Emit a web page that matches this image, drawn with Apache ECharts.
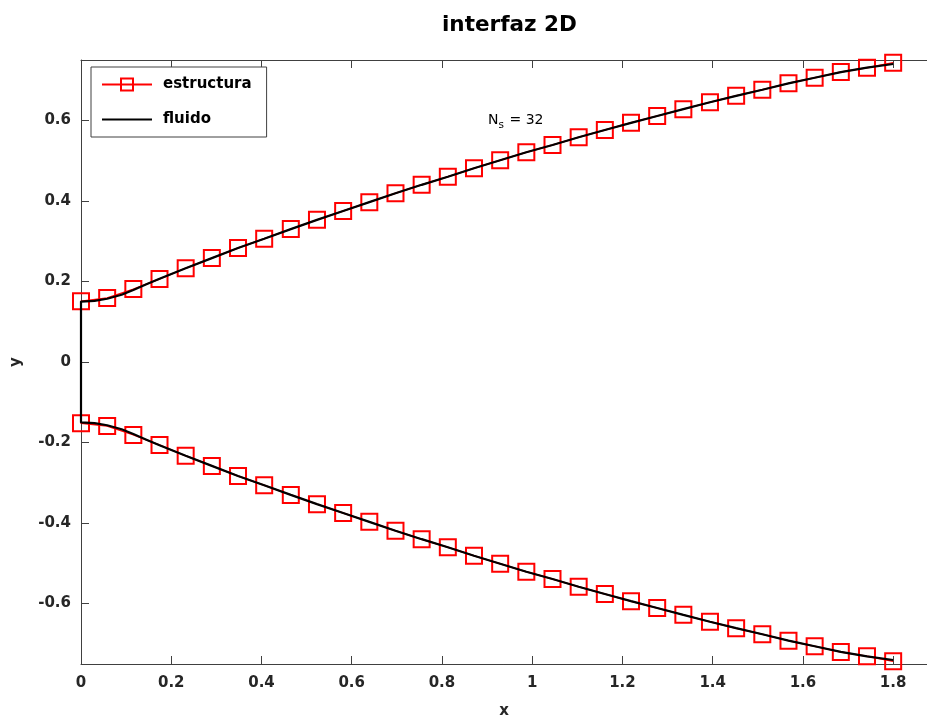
<!DOCTYPE html>
<html>
<head>
<meta charset="utf-8">
<script src="https://cdn.jsdelivr.net/npm/echarts@6/dist/echarts.min.js"></script>
<style>html,body{margin:0;padding:0;background:#fff}#c{width:927px;height:715px}</style>
</head>
<body>
<div id="c"></div>
<script>
// structure nodes (N_s = 32)
const structX = [0, 0.058, 0.116, 0.174, 0.232, 0.290, 0.348, 0.406, 0.465, 0.523, 0.581, 0.639, 0.697, 0.755, 0.813, 0.871, 0.929, 0.987, 1.045, 1.103, 1.161, 1.219, 1.277, 1.335, 1.394, 1.452, 1.510, 1.568, 1.626, 1.684, 1.742, 1.8];
const structUpper = [0.151, 0.159, 0.181, 0.206, 0.233, 0.258, 0.283, 0.306, 0.330, 0.353, 0.375, 0.397, 0.419, 0.440, 0.460, 0.481, 0.501, 0.521, 0.539, 0.558, 0.576, 0.594, 0.611, 0.628, 0.645, 0.661, 0.676, 0.692, 0.706, 0.720, 0.731, 0.743];
const structLower = [-0.152, -0.159, -0.181, -0.206, -0.233, -0.258, -0.283, -0.306, -0.330, -0.353, -0.375, -0.397, -0.419, -0.440, -0.460, -0.481, -0.501, -0.521, -0.539, -0.558, -0.576, -0.594, -0.611, -0.628, -0.645, -0.661, -0.676, -0.692, -0.706, -0.720, -0.731, -0.743];
// fluid interface
const fluidX = [0, 0.03, 0.058, 0.09, 0.116, 0.145, 0.174, 0.232, 0.290, 0.348, 0.406, 0.465, 0.523, 0.581, 0.639, 0.697, 0.755, 0.813, 0.871, 0.929, 0.987, 1.045, 1.103, 1.161, 1.219, 1.277, 1.335, 1.394, 1.452, 1.510, 1.568, 1.626, 1.684, 1.742, 1.8];
const fluidUpper = [0.150, 0.152, 0.157, 0.167, 0.179, 0.193, 0.207, 0.233, 0.258, 0.283, 0.306, 0.330, 0.353, 0.375, 0.397, 0.419, 0.440, 0.460, 0.481, 0.501, 0.521, 0.539, 0.558, 0.576, 0.594, 0.611, 0.628, 0.645, 0.661, 0.676, 0.692, 0.706, 0.720, 0.731, 0.740];
const fluidLower = [-0.150, -0.152, -0.157, -0.167, -0.179, -0.193, -0.207, -0.233, -0.258, -0.283, -0.306, -0.330, -0.353, -0.375, -0.397, -0.419, -0.440, -0.460, -0.481, -0.501, -0.521, -0.539, -0.558, -0.576, -0.594, -0.611, -0.628, -0.645, -0.661, -0.676, -0.692, -0.706, -0.720, -0.731, -0.740];
const xTicks = [0, 0.2, 0.4, 0.6, 0.8, 1, 1.2, 1.4, 1.6, 1.8];
const yTicks = [-0.6, -0.4, -0.2, 0, 0.2, 0.4, 0.6];

function closedCurve(xs, up, lo) {
  const out = [];
  for (let i = xs.length - 1; i >= 0; i--) out.push([xs[i], up[i]]);
  for (let i = 0; i < xs.length; i++) out.push([xs[i], lo[i]]);
  return out;
}

const FONT = 'DejaVu Sans';
const TXT = '#262626';
const AX = '#404040';
const chart = echarts.init(document.getElementById('c'), null, {renderer: 'canvas'});
chart.setOption({
  animation: false,
  backgroundColor: '#fff',
  title: {
    text: 'interfaz 2D', left: 442, top: 14, padding: 0,
    textStyle: {fontFamily: FONT, fontSize: 21.5, fontWeight: 'bold', color: '#000'}
  },
  grid: {left: 81, right: 0, top: 60, bottom: 51, containLabel: false, outerBoundsMode: 'none'},
  legend: {
    orient: 'vertical', left: 91, top: 67,
    padding: [10, 15, 10, 10], itemGap: 20, itemWidth: 50, itemHeight: 15,
    backgroundColor: '#fff', borderColor: AX, borderWidth: 1,
    textStyle: {fontFamily: FONT, fontSize: 15, fontWeight: 'bold', color: '#000', padding: [0, 0, 0, 6]},
    data: ['estructura', {name: 'fluido', itemStyle: {color: 'rgba(0,0,0,0)', borderWidth: 0, opacity: 0}}]
  },
  xAxis: [{
    type: 'value', min: 0, max: 1.875, position: 'bottom',
    name: 'x', nameLocation: 'middle', nameGap: 40,
    nameTextStyle: {fontFamily: FONT, fontSize: 15, fontWeight: 'bold', color: TXT},
    axisLine: {show: true, onZero: false, lineStyle: {color: AX, width: 1}},
    axisTick: {show: true, inside: true, length: 8, lineStyle: {color: AX}, customValues: xTicks},
    axisLabel: {margin: 12, fontFamily: FONT, fontSize: 15, fontWeight: 'bold', color: TXT, customValues: xTicks},
    splitLine: {show: false}
  }, {
    type: 'value', min: 0, max: 1.875, position: 'top',
    axisLine: {show: true, onZero: false, lineStyle: {color: AX, width: 1}},
    axisTick: {show: true, inside: true, length: 8, lineStyle: {color: AX}, customValues: xTicks},
    axisLabel: {show: false},
    splitLine: {show: false}
  }],
  yAxis: [{
    type: 'value', min: -0.75, max: 0.75, position: 'left',
    name: 'y', nameLocation: 'middle', nameGap: 57, nameRotate: 90,
    nameTextStyle: {fontFamily: FONT, fontSize: 15, fontWeight: 'bold', color: TXT},
    axisLine: {show: true, onZero: false, lineStyle: {color: AX, width: 1}},
    axisTick: {show: true, inside: true, length: 8, lineStyle: {color: AX}, customValues: yTicks},
    axisLabel: {margin: 10, fontFamily: FONT, fontSize: 15, fontWeight: 'bold', color: TXT, customValues: yTicks},
    splitLine: {show: false}
  }],
  graphic: [{
    type: 'text', left: 488, top: 113,
    style: {text: 'N', fontFamily: FONT, fontSize: 14, fill: '#000'}
  }, {
    type: 'text', left: 498.5, top: 120,
    style: {text: 's', fontFamily: FONT, fontSize: 10.5, fill: '#000'}
  }, {
    type: 'text', left: 505, top: 113,
    style: {text: ' = 32', fontFamily: FONT, fontSize: 14, fill: '#000'}
  }],
  series: [{
    name: 'estructura', type: 'line', z: 2,
    data: closedCurve(structX, structUpper, structLower),
    symbol: 'rect', symbolSize: 16, showAllSymbol: true,
    lineStyle: {color: '#ff0000', width: 1.5},
    itemStyle: {color: 'rgba(255,255,255,0)', borderColor: '#ff0000', borderWidth: 2}
  }, {
    name: 'fluido', type: 'line', z: 5,
    data: closedCurve(fluidX, fluidUpper, fluidLower),
    symbol: 'none',
    lineStyle: {color: '#000', width: 2.2},
    itemStyle: {color: '#000'}
  }]
});
</script>
</body>
</html>
